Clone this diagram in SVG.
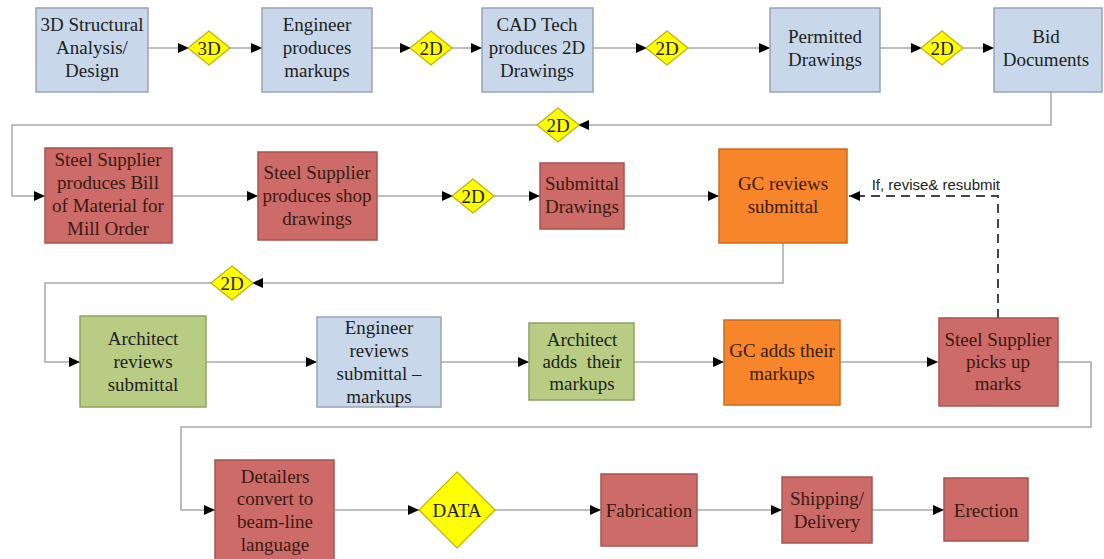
<svg xmlns="http://www.w3.org/2000/svg" width="1104" height="559" viewBox="0 0 1104 559">
  <defs>
    <marker id="arrow" markerUnits="userSpaceOnUse" markerWidth="12" markerHeight="10" refX="11" refY="5" orient="auto">
      <path d="M0,0 L11,5 L0,10 Z" fill="#000"/>
    </marker>
    <style>
      .blue { fill: #c8d8ea; stroke: #98a4b2; stroke-width: 1.5; }
      .red { fill: #cd6b68; stroke: #a65450; stroke-width: 1.5; }
      .orange { fill: #f7862a; stroke: #c96c20; stroke-width: 1.5; }
      .green { fill: #b8cc84; stroke: #8fa262; stroke-width: 1.5; }
      .dia { fill: #ffff00; stroke: #c2b000; stroke-width: 1.2; }
      .t { font-family: "Liberation Serif", "Times New Roman", serif; font-size: 19px; fill: #222; text-anchor: middle; }
      .td { fill: #3a1a12; }
      .lbl { font-family: "Liberation Sans", Arial, sans-serif; font-size: 15px; fill: #222; text-anchor: end; }
      .c { fill: none; stroke: #a8a8a8; stroke-width: 1.5; }
      .dash { fill: none; stroke: #444; stroke-width: 2; stroke-dasharray: 9 6; }
    </style>
  </defs>
  <rect width="1104" height="559" fill="#fff"/>

  <!-- connectors -->
  <g id="connectors">
    <!-- row 1 -->
    <path class="c" d="M148,48 H189" marker-end="url(#arrow)"/>
    <path class="c" d="M229,48 H262" marker-end="url(#arrow)"/>
    <path class="c" d="M372,48 H411" marker-end="url(#arrow)"/>
    <path class="c" d="M451,48 H482" marker-end="url(#arrow)"/>
    <path class="c" d="M593,48 H647" marker-end="url(#arrow)"/>
    <path class="c" d="M687,48 H770" marker-end="url(#arrow)"/>
    <path class="c" d="M880,48 H922" marker-end="url(#arrow)"/>
    <path class="c" d="M962,48 H994" marker-end="url(#arrow)"/>
    <path class="c" d="M1051,92 V125 H578" marker-end="url(#arrow)"/>
    <path class="c" d="M538,125 H12 V196 H45" marker-end="url(#arrow)"/>
    <!-- row 2 -->
    <path class="c" d="M172,196 H258" marker-end="url(#arrow)"/>
    <path class="c" d="M377,196 H453" marker-end="url(#arrow)"/>
    <path class="c" d="M493,196 H540" marker-end="url(#arrow)"/>
    <path class="c" d="M624,196 H719" marker-end="url(#arrow)"/>
    <path class="c" d="M783,243 V283 H252" marker-end="url(#arrow)"/>
    <path class="c" d="M212,283 H45 V362 H80" marker-end="url(#arrow)"/>
    <path class="dash" d="M998,318 V196 H849" marker-end="url(#arrow)"/>
    <!-- row 3 -->
    <path class="c" d="M206,362 H317" marker-end="url(#arrow)"/>
    <path class="c" d="M441,362 H529" marker-end="url(#arrow)"/>
    <path class="c" d="M634,362 H724" marker-end="url(#arrow)"/>
    <path class="c" d="M840,362 H938" marker-end="url(#arrow)"/>
    <path class="c" d="M1057,362 H1091 V427 H181 V510 H215" marker-end="url(#arrow)"/>
    <!-- row 4 -->
    <path class="c" d="M334,510 H419" marker-end="url(#arrow)"/>
    <path class="c" d="M495,510 H601" marker-end="url(#arrow)"/>
    <path class="c" d="M697,510 H782" marker-end="url(#arrow)"/>
    <path class="c" d="M872,510 H944" marker-end="url(#arrow)"/>
    <text class="lbl" x="1000" y="190">If, revise&amp; resubmit</text>
  </g>

  <!-- row 1 -->
  <g id="analysis">
    <rect class="blue" x="36" y="8" width="112" height="84"/>
    <text class="t"><tspan x="92" y="31">3D Structural</tspan><tspan x="92" y="54">Analysis/</tspan><tspan x="92" y="77">Design</tspan></text>
  </g>
  <g id="dia-3d">
    <polygon class="dia" points="209,31 230,48 209,65 188,48"/>
    <text class="t" x="209" y="54.5">3D</text>
  </g>
  <g id="engineer-markups">
    <rect class="blue" x="262" y="8" width="110" height="84"/>
    <text class="t"><tspan x="317" y="31">Engineer</tspan><tspan x="317" y="54">produces</tspan><tspan x="317" y="77">markups</tspan></text>
  </g>
  <g id="dia-2d-a">
    <polygon class="dia" points="431,31 452,48 431,65 410,48"/>
    <text class="t" x="431" y="54.5">2D</text>
  </g>
  <g id="cad-tech">
    <rect class="blue" x="482" y="8" width="111" height="84"/>
    <text class="t"><tspan x="537" y="31">CAD Tech</tspan><tspan x="537" y="54">produces 2D</tspan><tspan x="537" y="77">Drawings</tspan></text>
  </g>
  <g id="dia-2d-b">
    <polygon class="dia" points="667,31 688,48 667,65 646,48"/>
    <text class="t" x="667" y="54.5">2D</text>
  </g>
  <g id="permitted">
    <rect class="blue" x="770" y="8" width="110" height="84"/>
    <text class="t"><tspan x="825" y="43">Permitted</tspan><tspan x="825" y="66">Drawings</tspan></text>
  </g>
  <g id="dia-2d-c">
    <polygon class="dia" points="942,31 963,48 942,65 921,48"/>
    <text class="t" x="942" y="54.5">2D</text>
  </g>
  <g id="bid">
    <rect class="blue" x="994" y="8" width="108" height="84"/>
    <text class="t"><tspan x="1046" y="43">Bid</tspan><tspan x="1046" y="66">Documents</tspan></text>
  </g>
  <g id="dia-2d-d">
    <polygon class="dia" points="558,108 579,125 558,142 537,125"/>
    <text class="t" x="558" y="131.5">2D</text>
  </g>

  <!-- row 2 -->
  <g id="bill-of-material">
    <rect class="red" x="45" y="148" width="127" height="95"/>
    <text class="t td"><tspan x="108" y="166">Steel Supplier</tspan><tspan x="108" y="189">produces Bill</tspan><tspan x="108" y="212">of Material for</tspan><tspan x="108" y="235">Mill Order</tspan></text>
  </g>
  <g id="shop-drawings">
    <rect class="red" x="258" y="152" width="119" height="88"/>
    <text class="t td"><tspan x="317" y="179">Steel Supplier</tspan><tspan x="317" y="202">produces shop</tspan><tspan x="317" y="225">drawings</tspan></text>
  </g>
  <g id="dia-2d-e">
    <polygon class="dia" points="473,179 494,196 473,213 452,196"/>
    <text class="t" x="473" y="202.5">2D</text>
  </g>
  <g id="submittal-drawings">
    <rect class="red" x="540" y="163" width="84" height="66"/>
    <text class="t td"><tspan x="582" y="190">Submittal</tspan><tspan x="582" y="213">Drawings</tspan></text>
  </g>
  <g id="gc-reviews">
    <rect class="orange" x="719" y="149" width="128" height="94"/>
    <text class="t td"><tspan x="783" y="190">GC reviews</tspan><tspan x="783" y="213">submittal</tspan></text>
  </g>
  <g id="dia-2d-f">
    <polygon class="dia" points="232,266 253,283 232,300 211,283"/>
    <text class="t" x="232" y="289.5">2D</text>
  </g>

  <!-- row 3 -->
  <g id="architect-reviews">
    <rect class="green" x="80" y="316" width="126" height="91"/>
    <text class="t"><tspan x="143" y="345">Architect</tspan><tspan x="143" y="368">reviews</tspan><tspan x="143" y="391">submittal</tspan></text>
  </g>
  <g id="engineer-reviews">
    <rect class="blue" x="317" y="317" width="124" height="90"/>
    <text class="t"><tspan x="379" y="334">Engineer</tspan><tspan x="379" y="357">reviews</tspan><tspan x="379" y="380">submittal –</tspan><tspan x="379" y="403">markups</tspan></text>
  </g>
  <g id="architect-adds">
    <rect class="green" x="529" y="323" width="105" height="77"/>
    <text class="t"><tspan x="582" y="346">Architect</tspan><tspan x="582" y="368" xml:space="preserve">adds  their</tspan><tspan x="582" y="390">markups</tspan></text>
  </g>
  <g id="gc-adds">
    <rect class="orange" x="724" y="320" width="116" height="85"/>
    <text class="t td"><tspan x="782" y="357">GC adds their</tspan><tspan x="782" y="380">markups</tspan></text>
  </g>
  <g id="picks-up-marks">
    <rect class="red" x="939" y="318" width="119" height="88"/>
    <text class="t td"><tspan x="998" y="346">Steel Supplier</tspan><tspan x="998" y="368">picks up</tspan><tspan x="998" y="390">marks</tspan></text>
  </g>

  <!-- row 4 -->
  <g id="detailers">
    <rect class="red" x="215" y="460" width="119" height="102"/>
    <text class="t td"><tspan x="275" y="483">Detailers</tspan><tspan x="275" y="505">convert to</tspan><tspan x="275" y="528">beam-line</tspan><tspan x="275" y="551">language</tspan></text>
  </g>
  <g id="dia-data">
    <polygon class="dia" points="457,472 495,510 457,548 419,510"/>
    <text class="t" x="457" y="516.5">DATA</text>
  </g>
  <g id="fabrication">
    <rect class="red" x="601" y="474" width="96" height="72"/>
    <text class="t td" x="649" y="516.5">Fabrication</text>
  </g>
  <g id="shipping">
    <rect class="red" x="782" y="477" width="90" height="66"/>
    <text class="t td"><tspan x="827" y="505">Shipping/</tspan><tspan x="827" y="528">Delivery</tspan></text>
  </g>
  <g id="erection">
    <rect class="red" x="944" y="478" width="84" height="63"/>
    <text class="t td" x="986" y="516.5">Erection</text>
  </g>
</svg>
